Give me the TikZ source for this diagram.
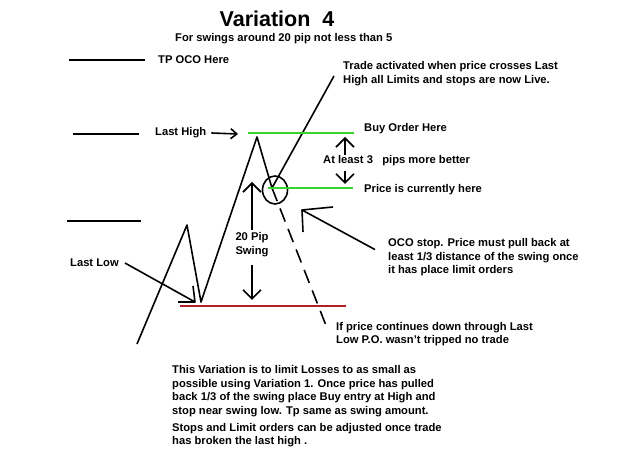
\documentclass[tikz,border=0pt]{standalone}
\usepackage{fontspec}
\setmainfont{Liberation Sans}
\usetikzlibrary{arrows.meta}
\definecolor{levelgreen}{RGB}{60,210,45}
\definecolor{stopred}{RGB}{180,30,40}
\tikzset{
  txt/.style={font=\fontsize{11.2}{13.5}\selectfont\bfseries, inner sep=0pt, anchor=west, align=left},
  pen/.style={line width=1.6pt, line join=round},
  arr/.style={pen, -{Straight Barb[length=9pt,width=18pt,line width=1.6pt]}},
  smallarr/.style={pen, -{Straight Barb[length=6pt,width=10pt,line width=1.6pt]}},
  level/.style={line width=2pt},
}
\begin{document}
\begin{tikzpicture}[x=1pt,y=-1pt]
\fill[white] (0,0) rectangle (625,470);
\useasboundingbox (0,0) rectangle (625,470);

% heading
\node[font=\fontsize{21.5}{26}\selectfont\bfseries, inner sep=0pt] (title) at (277,19) {Variation\ \ 4};
\node[txt] (sub) at (175,39) {For swings around 20 pip not less than 5};

% price path
\coordinate (start) at (137,344);
\coordinate (lowpk) at (187,225);
\coordinate (low) at (201,302);
\coordinate (high) at (257,137);
\coordinate (pull) at (272,188);
\coordinate (top) at (334,76);
\coordinate (stopend) at (327,328);
\draw[pen] (start) -- (lowpk) -- (low) -- (high) -- (pull) -- (top);
\draw[pen, dash pattern=on 14pt off 8pt] (pull) -- (stopend);
\draw[pen] (275,190) ellipse (12.5 and 14);

% levels
\draw[pen] (69,60) -- (145,60);
\draw[pen] (73,134) -- (139,134);
\draw[pen] (67,221) -- (141,221);
\draw[levelgreen, level] (248,133) -- (354,133);
\draw[levelgreen, level] (268,188) -- (353,188);
\draw[stopred, level] (180,306) -- (346,306);

% labels
\node[txt] (tp) at (158,60) {TP OCO Here};
\node[txt] (lasthigh) at (155,133) {Last High};
\node[txt] (buy) at (364,129) {Buy Order Here};
\node[txt] (gap) at (323,161) {At least 3\ \ \ pips more better};
\node[txt] (current) at (364,190) {Price is currently here};
\node[txt] (trade) at (343,73.5) {Trade activated when price crosses Last\\High all Limits and stops are now Live.};
\node[txt] (lastlow) at (70,263) {Last Low};
\node[txt, anchor=center, align=center] (swing) at (252,244.5) {20 Pip\\Swing};
\node[txt] (oco) at (388,257.5) {OCO stop. Price must pull back at\\least 1/3 distance of the swing once\\it has place limit orders};
\node[txt] (through) at (336,334) {If price continues down through Last\\Low P.O. wasn't tripped no trade};
\node[txt] (note) at (172,391) {This Variation is to limit Losses to as small as\\possible using Variation 1. Once price has pulled\\back 1/3 of the swing place Buy entry at High and\\stop near swing low. Tp same as swing amount.};
\node[txt] (adjust) at (172,435) {Stops and Limit orders can be adjusted once trade\\has broken the last high .};

% arrows
\coordinate (highTip) at (238,134);
\coordinate (upTip) at (345,137);
\coordinate (dnTip) at (345,184);
\coordinate (swingTop) at (252,182);
\coordinate (swingBot) at (252,300);
\coordinate (lowTip) at (195,302);
\coordinate (ocoTip) at (302,210);
\draw[smallarr] ([xshift=5pt]lasthigh.east) -- (highTip);
\draw[arr] ([yshift=1pt]gap.north -| upTip) -- (upTip);
\draw[arr] ([yshift=-5pt]gap.south -| dnTip) -- (dnTip);
\draw[arr] ([yshift=2pt]swing.north) -- (swingTop);
\draw[arr] ([yshift=-8pt]swing.south) -- (swingBot);
\draw[pen] ([xshift=6pt]lastlow.east) -- (lowTip) -- ++(-17,0) (lowTip) -- ++(-2,-16);
\draw[pen] ([xshift=-13pt,yshift=-11pt]oco.north west) -- (ocoTip) -- ++(31,-3) (ocoTip) -- ++(1,22);
\end{tikzpicture}
\end{document}
